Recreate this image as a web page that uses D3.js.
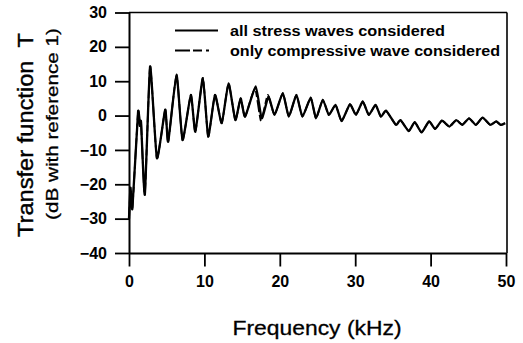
<!DOCTYPE html>
<html>
<head>
<meta charset="utf-8">
<script src="https://cdn.jsdelivr.net/npm/d3@7"></script>
<style>
  body { margin: 0; background: #fff; }
  svg { display: block; font-family: "Liberation Sans", Arial, sans-serif; }
</style>
</head>
<body>
<div id="svgRoot"></div>
<script>
// frequency (kHz) and transfer function (dB)
const freqAll = [0.0, 0.2, 0.45, 1.2, 1.45, 1.6, 2.1, 2.8, 3.7, 4.8, 5.2, 6.3, 7.1, 8.2, 8.8, 9.8, 10.5, 11.4, 12.3, 13.2, 14.1, 14.8, 15.4, 16.8, 17.6, 18.5, 19.3, 20.4, 21.2, 22.2, 23.0, 24.1, 24.8, 25.7, 26.5, 27.4, 28.2, 29.3, 30.1, 31.0, 31.8, 32.7, 33.4, 34.1, 35.4, 36.0, 37.1, 37.9, 38.8, 39.8, 40.6, 41.5, 42.5, 43.4, 44.2, 45.1, 46.0, 46.9, 47.9, 48.7, 49.3, 49.9];
const tAll = [-30, -21, -27, 1, -3, -2, -23, 14.3, -12.4, 1.7, -7.6, 11.9, -7.1, 6, -4.7, 10.9, -6.1, 6, -2.2, 9.4, -1.3, 5, -0.3, 8.5, -0.8, 5.5, 0.2, 6.5, -0.3, 6, -0.3, 5.2, -0.8, 4.6, 0.2, 3.1, -1.6, 3.3, 0.2, 4.1, 0.2, 3.1, -0.3, 1.4, -2.7, -1.3, -4.5, -1.9, -4.9, -1.7, -3.9, -1.5, -3.2, -1.3, -2.7, -0.8, -2.7, -0.6, -2.7, -1.7, -2.7, -2.2];

const freqComp = [0.0, 0.2, 0.45, 1.2, 1.45, 1.6, 2.1, 2.8, 3.7, 4.8, 5.2, 6.3, 7.1, 8.2, 8.8, 9.8, 10.5, 11.4, 12.3, 13.2, 14.1, 14.8, 15.4, 16.7, 17.5, 18.4, 19.3, 20.4, 21.2, 22.2, 23.0, 24.1, 24.8, 25.7, 26.5, 27.4, 28.2, 29.3, 30.1, 31.0, 31.8, 32.7, 33.4, 34.1, 35.4, 36.0, 37.1, 37.9, 38.8, 39.8, 40.6, 41.5, 42.5, 43.4, 44.2, 45.1, 46.0, 46.9, 47.9, 48.7, 49.3, 49.9];
const tComp = [-30, -22, -27, 1, -3, -2, -23, 14.3, -12.4, 1.7, -7.6, 11.9, -7.1, 6, -4.7, 10.9, -6.1, 6, -2.2, 9.4, -1.3, 5, -0.3, 8, -1.6, 6, 0.2, 6.5, -0.3, 6, -0.3, 5.2, -0.8, 4.6, 0.2, 3.1, -1.6, 3.3, 0.2, 4.1, 0.2, 3.1, -0.3, 1.4, -2.7, -1.3, -4.5, -1.9, -4.9, -1.7, -3.9, -1.5, -3.2, -1.3, -2.7, -0.8, -2.7, -0.6, -2.7, -1.7, -2.7, -2.2];

const xTicks = [0, 10, 20, 30, 40, 50];
const yTicks = [-40, -30, -20, -10, 0, 10, 20, 30];
const legendLabels = ["all stress waves considered", "only compressive wave considered"];

const W = 523, H = 343;

const svg = d3.select("#svgRoot")
  .append("svg")
  .attr("width", W)
  .attr("height", H);

const x = d3.scaleLinear().domain([0, 50]).range([129, 506]);
const y = d3.scaleLinear().domain([-40, 30]).range([253, 12.5]);

// frame top and right
svg.append("line")
  .attr("x1", x(0)).attr("x2", x(50) + 1)
  .attr("y1", y(30)).attr("y2", y(30))
  .attr("stroke", "#000").attr("stroke-width", 1.6);
svg.append("line")
  .attr("x1", x(50) + 1).attr("x2", x(50) + 1)
  .attr("y1", y(30)).attr("y2", y(-40))
  .attr("stroke", "#000").attr("stroke-width", 1.6);

// Y axis
const yAxis = svg.append("g")
  .attr("transform", "translate(" + x(0) + ",0)")
  .call(d3.axisLeft(y).tickValues(yTicks).tickSize(14).tickSizeOuter(0).tickPadding(8));

// X axis
const xAxis = svg.append("g")
  .attr("transform", "translate(0," + y(-40) + ")")
  .call(d3.axisBottom(x).tickValues(xTicks).tickSize(13.5).tickSizeOuter(0).tickPadding(9));

[yAxis, xAxis].forEach(g => {
  g.select(".domain").attr("stroke-width", 2).attr("stroke", "#000");
  g.selectAll(".tick line").attr("stroke-width", 1.8).attr("stroke", "#000");
  g.selectAll(".tick text")
    .attr("fill", "#000")
    .style("font-family", "'Liberation Sans', Arial, sans-serif")
    .style("font-size", "16px")
    .style("font-weight", "bold");
});

// the curves
const line = d3.line()
  .curve(d3.curveCardinal.tension(0.5))
  .x(d => x(d[0]))
  .y(d => y(d[1]));

svg.append("path")
  .datum(d3.zip(freqComp, tComp))
  .attr("d", line)
  .attr("fill", "none")
  .attr("stroke", "#000")
  .attr("stroke-width", 1.8)
  .attr("stroke-dasharray", "12,3,6,3");

svg.append("path")
  .datum(d3.zip(freqAll, tAll))
  .attr("d", line)
  .attr("fill", "none")
  .attr("stroke", "#000")
  .attr("stroke-width", 2.3)
  .attr("stroke-linejoin", "round");

// legend
svg.append("line")
  .attr("x1", 175).attr("x2", 218)
  .attr("y1", 30.5).attr("y2", 30.5)
  .attr("stroke", "#000").attr("stroke-width", 2);
svg.append("line")
  .attr("x1", 175).attr("x2", 218)
  .attr("y1", 50.5).attr("y2", 50.5)
  .attr("stroke", "#000").attr("stroke-width", 2)
  .attr("stroke-dasharray", "15,3,9,4,3");

svg.append("text")
  .text(legendLabels[0])
  .attr("x", 230).attr("y", 35.5)
  .attr("textLength", 215).attr("lengthAdjust", "spacingAndGlyphs")
  .style("font-size", "14px").style("font-weight", "bold");
svg.append("text")
  .text(legendLabels[1])
  .attr("x", 230).attr("y", 55.5)
  .attr("textLength", 270).attr("lengthAdjust", "spacingAndGlyphs")
  .style("font-size", "14px").style("font-weight", "bold");

// axis titles
svg.append("text")
  .text("Transfer function\u00a0\u00a0T")
  .attr("text-anchor", "middle")
  .attr("transform", "translate(33,135) rotate(-90)")
  .attr("textLength", 204).attr("lengthAdjust", "spacingAndGlyphs")
  .attr("stroke", "#000").attr("stroke-width", 0.4)
  .style("font-size", "22px");

svg.append("text")
  .text("(dB with reference 1)")
  .attr("text-anchor", "middle")
  .attr("transform", "translate(57.5,124) rotate(-90)")
  .attr("textLength", 192).attr("lengthAdjust", "spacingAndGlyphs")
  .attr("stroke", "#000").attr("stroke-width", 0.3)
  .style("font-size", "17px");

svg.append("text")
  .text("Frequency (kHz)")
  .attr("text-anchor", "middle")
  .attr("x", 317).attr("y", 335)
  .attr("textLength", 169).attr("lengthAdjust", "spacingAndGlyphs")
  .attr("stroke", "#000").attr("stroke-width", 0.3)
  .style("font-size", "21px");
</script>
</body>
</html>
